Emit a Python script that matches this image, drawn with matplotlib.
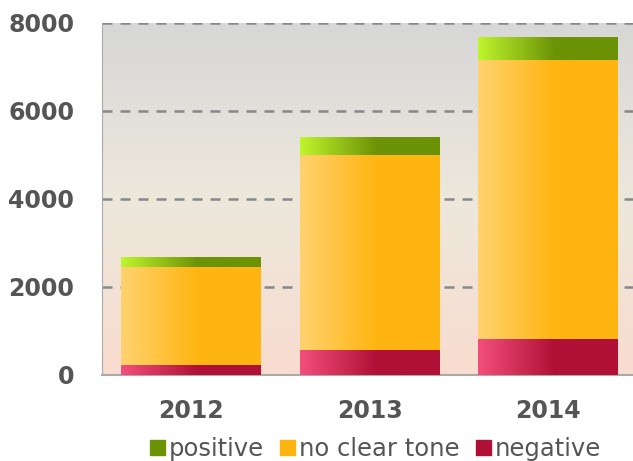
import numpy as np
import matplotlib.pyplot as plt
from matplotlib.colors import LinearSegmentedColormap
from matplotlib.patches import Patch

# data
years = ["2012", "2013", "2014"]
negative = [220, 560, 825]
no_clear = [2240, 4430, 6335]
positive = [215, 410, 520]

yticks = [0, 2000, 4000, 6000, 8000]

fig = plt.figure(figsize=(6.33, 4.61), dpi=100)
ax = fig.add_axes([0.161, 0.1866, 0.846, 0.7636])

x = np.arange(len(years))
width = 0.784

# background gradient grey -> pinkish
bg = LinearSegmentedColormap.from_list("bg", ["#f8dccf", "#ede8dc", "#d7d7d7"])
grad = np.linspace(0, 1, 256).reshape(-1, 1)
ax.imshow(grad, cmap=bg, origin="lower", aspect="auto",
          extent=[-0.5, 2.5, 0, 8000], zorder=0)

# gradient fills for each series
cm_pos = LinearSegmentedColormap.from_list("pos", [(0, "#bff52d"), (0.55, "#6c9206"), (1, "#6c9206")])
cm_mid = LinearSegmentedColormap.from_list("mid", [(0, "#ffd270"), (0.55, "#ffb511"), (1, "#ffb511")])
cm_neg = LinearSegmentedColormap.from_list("neg", [(0, "#f24f7c"), (0.55, "#b01036"), (1, "#b01036")])
hgrad = np.linspace(0, 1, 256).reshape(1, -1)

def grad_bars(bottom, vals, cmap):
    bars = ax.bar(x, vals, width, bottom=bottom, color="none", edgecolor="none", zorder=3)
    for b in bars:
        x0, y0 = b.get_x(), b.get_y()
        im = ax.imshow(hgrad, cmap=cmap, aspect="auto", zorder=3,
                       extent=[x0, x0 + b.get_width(), y0, y0 + b.get_height()])
        im.set_clip_path(b)
    return bars

bottom = np.zeros(len(years))
grad_bars(bottom, negative, cm_neg)
bottom = bottom + np.array(negative)
grad_bars(bottom, no_clear, cm_mid)
bottom = bottom + np.array(no_clear)
grad_bars(bottom, positive, cm_pos)

ax.set_xlim(-0.5, 2.5)
ax.set_ylim(0, 8000)

for yv in yticks[1:]:
    ax.axhline(yv, color="#888888", lw=1.8, ls=(0, (4, 3.2)), zorder=1)

ax.set_yticks(yticks)
ax.set_xticks(x)
ax.set_xticklabels(years)
ax.tick_params(axis="y", length=0, pad=20, labelsize=17, labelcolor="#555555")
ax.tick_params(axis="x", length=0, pad=17, labelsize=17, labelcolor="#555555")
for lab in ax.get_xticklabels() + ax.get_yticklabels():
    lab.set_fontweight("bold")

for s in ["top", "right"]:
    ax.spines[s].set_visible(False)
ax.spines["left"].set_color("#aaaaaa")
ax.spines["bottom"].set_color("#aaaaaa")
ax.spines["bottom"].set_linewidth(1.5)

handles = [Patch(color="#6c9206", label="positive"),
           Patch(color="#ffb511", label="no clear tone"),
           Patch(color="#b01036", label="negative")]
leg = fig.legend(handles=handles, loc="center", bbox_to_anchor=(0.593, 0.026),
                 ncol=3, frameon=False, fontsize=17.5, handlelength=0.62,
                 handleheight=0.62, handletextpad=0.16, columnspacing=0.66,
                 borderaxespad=0, borderpad=0)
for t in leg.get_texts():
    t.set_color("#555555")

fig.savefig("out.png", dpi=100)
